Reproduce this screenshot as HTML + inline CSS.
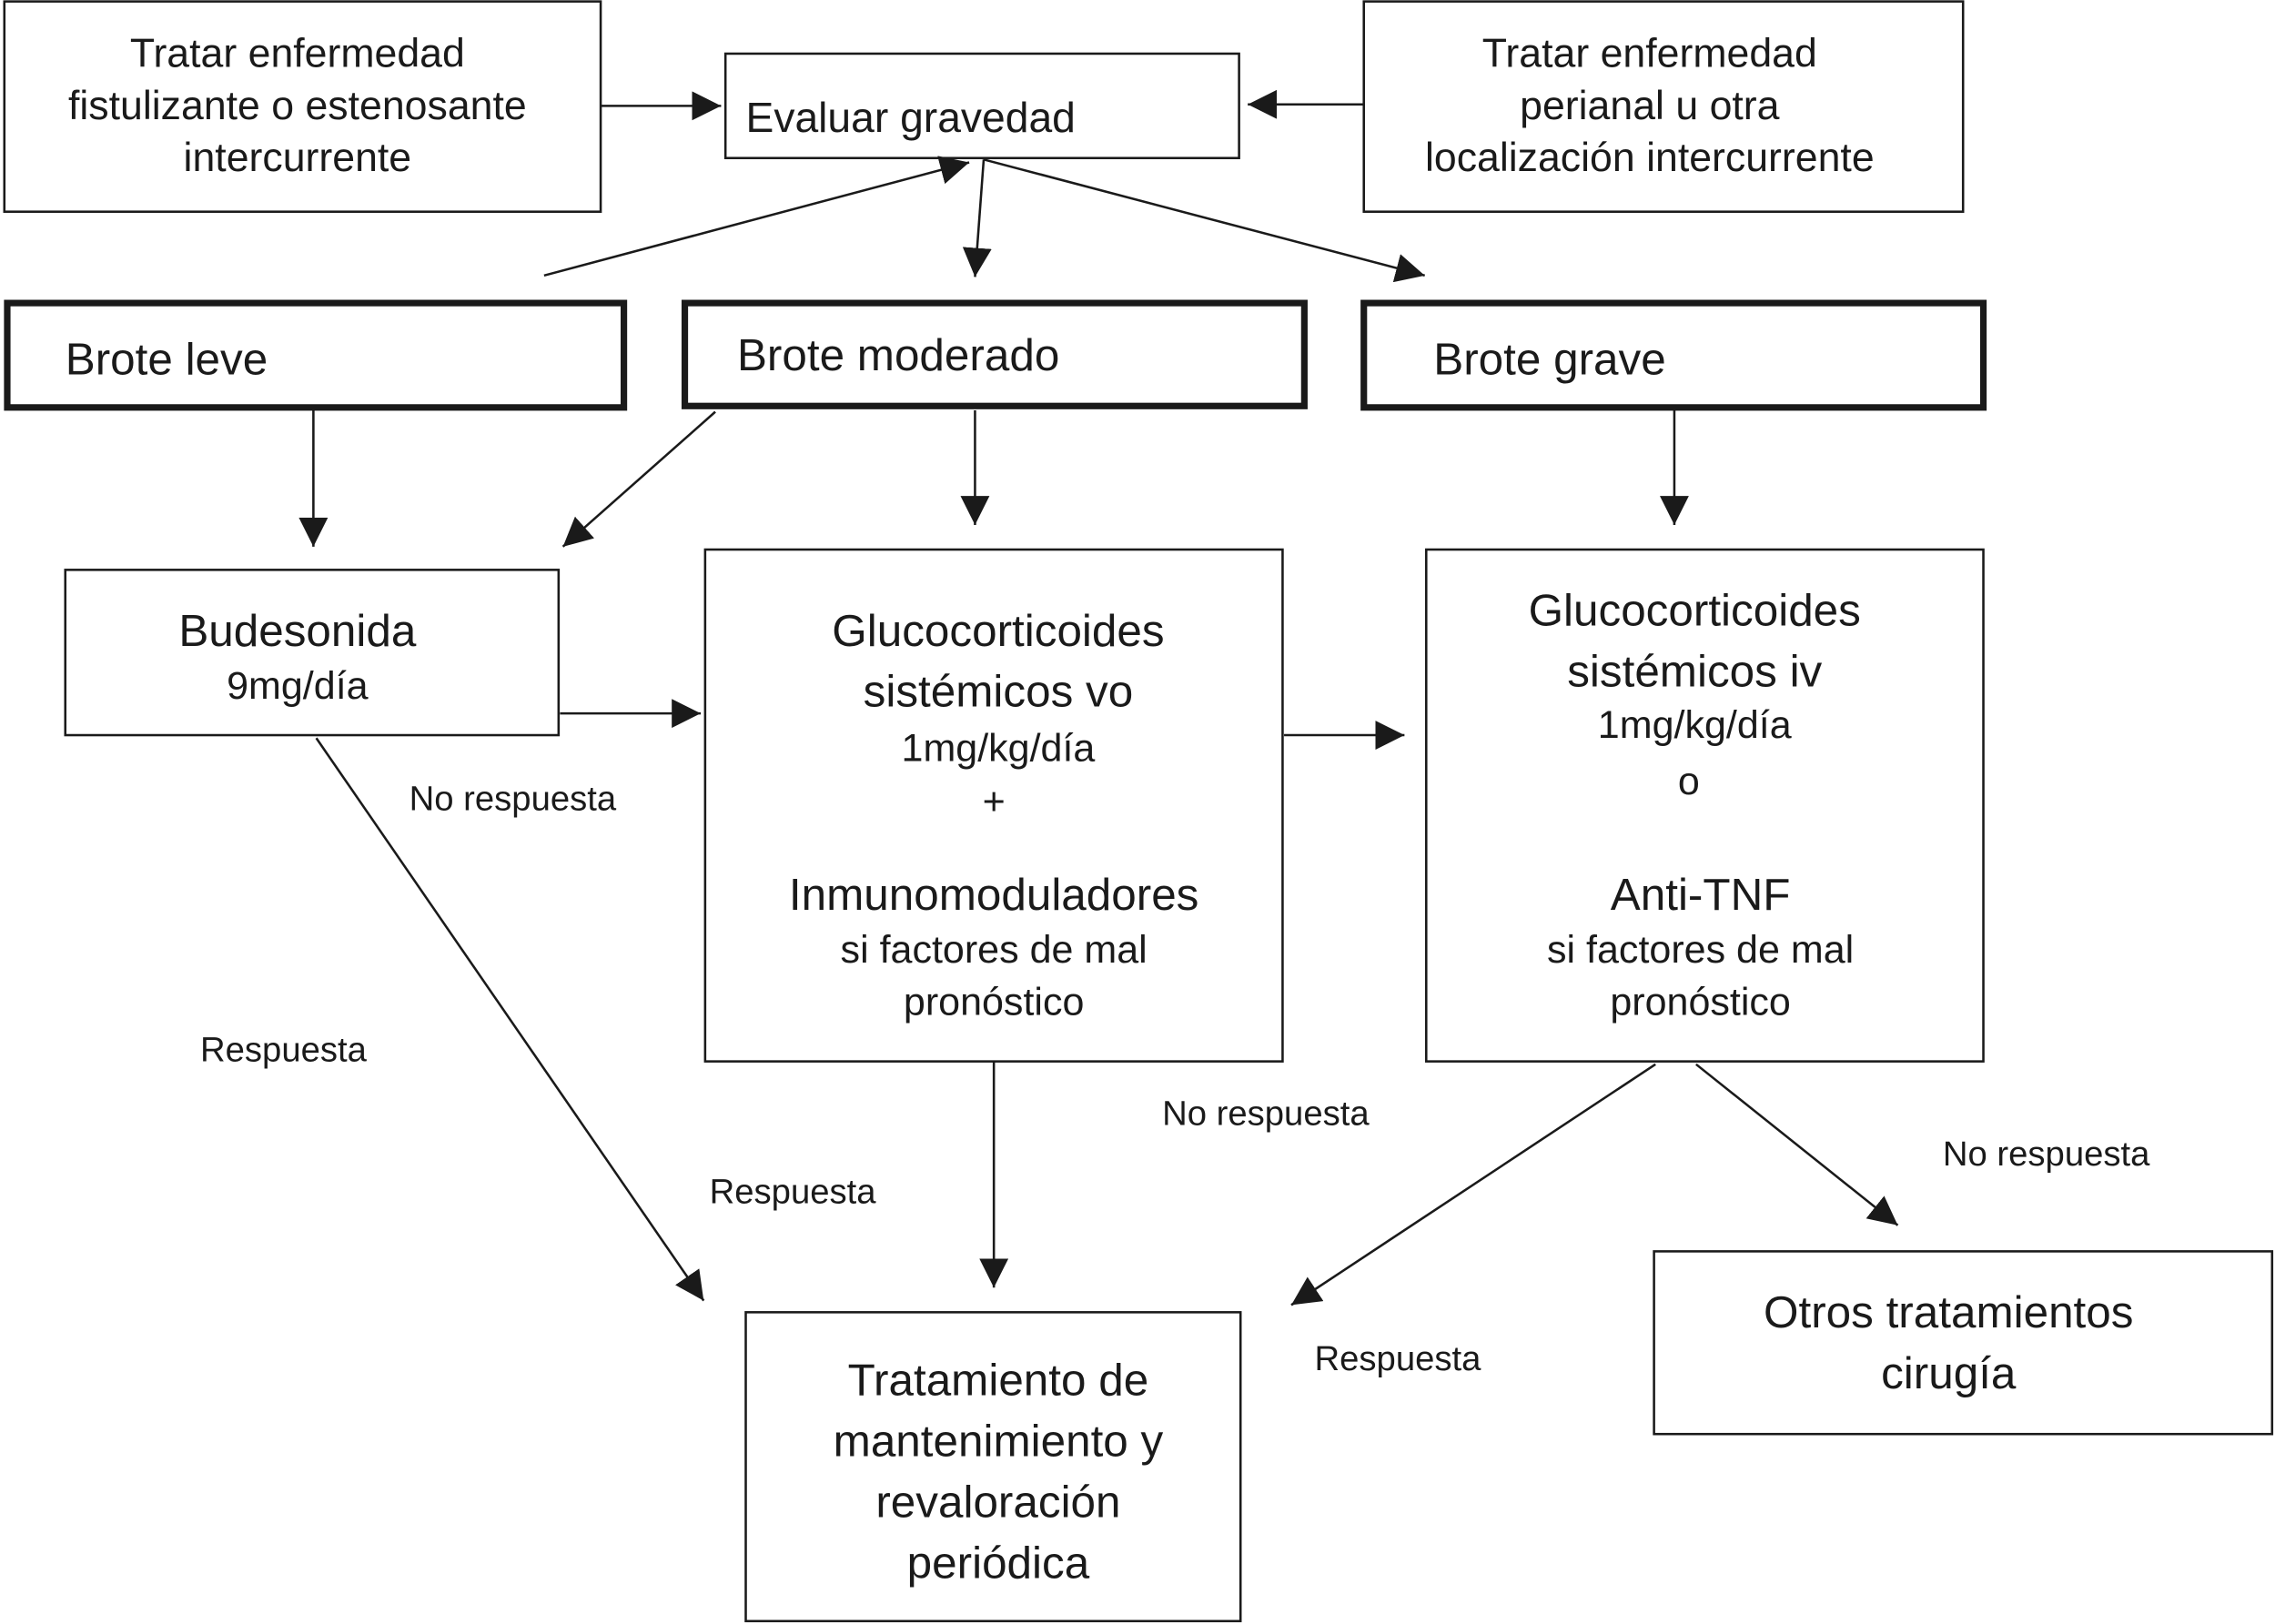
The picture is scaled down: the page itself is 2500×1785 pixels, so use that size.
<!DOCTYPE html>
<html><head><meta charset="utf-8"><style>
html,body{margin:0;padding:0;background:#fff;}
svg{display:block;}
text{font-family:"Liberation Sans",sans-serif;fill:#1a1a1a;dominant-baseline:central;}
</style></head><body>
<svg width="2500" height="1785" viewBox="0 0 1568 1120" preserveAspectRatio="none" xmlns="http://www.w3.org/2000/svg">
<defs><marker id="a" viewBox="0 0 10 10" refX="10" refY="5" markerWidth="20" markerHeight="20" markerUnits="userSpaceOnUse" orient="auto"><path d="M0,0 L10,5 L0,10 z" fill="#1a1a1a"/></marker></defs>
<g fill="none" stroke="#1a1a1a" stroke-width="1.6">
<rect x="3" y="1" width="411" height="145"/>
<rect x="500" y="37" width="354" height="72"/>
<rect x="940" y="1" width="413" height="145"/>
<rect x="45" y="393" width="340" height="114"/>
<rect x="486" y="379" width="398" height="353"/>
<rect x="983" y="379" width="384" height="353"/>
<rect x="514" y="905" width="341" height="213"/>
<rect x="1140" y="863" width="426" height="126"/>
</g>
<g fill="none" stroke="#1a1a1a" stroke-width="4.5">
<rect x="5" y="209" width="425" height="72"/>
<rect x="472" y="209" width="427" height="71"/>
<rect x="940" y="209" width="427" height="72"/>
</g>
<g stroke="#1a1a1a" stroke-width="1.6" marker-end="url(#a)">
<line x1="414" y1="73" x2="497" y2="73"/>
<line x1="940" y1="72" x2="860" y2="72"/>
<line x1="375" y1="190" x2="668" y2="112"/>
<line x1="678" y1="110" x2="672" y2="191"/>
<line x1="678" y1="110" x2="982" y2="190"/>
<line x1="216" y1="283" x2="216" y2="377"/>
<line x1="493" y1="284" x2="388" y2="377"/>
<line x1="672" y1="283" x2="672" y2="362"/>
<line x1="1154" y1="283" x2="1154" y2="362"/>
<line x1="386" y1="492" x2="483" y2="492"/>
<line x1="885" y1="507" x2="968" y2="507"/>
<line x1="218" y1="509" x2="485" y2="897"/>
<line x1="685" y1="732" x2="685" y2="888"/>
<line x1="1141" y1="734" x2="890" y2="900"/>
<line x1="1169" y1="734" x2="1308" y2="845"/>
</g>
<g text-anchor="middle" font-size="28">
<text x="205" y="37">Tratar enfermedad</text>
<text x="205" y="73">fistulizante o estenosante</text>
<text x="205" y="109">intercurrente</text>
<text x="1137" y="37">Tratar enfermedad</text>
<text x="1137" y="73">perianal u otra</text>
<text x="1137" y="109">localización intercurrente</text>
</g>
<text x="514" y="81" font-size="29">Evaluar gravedad</text>
<text x="45" y="248" font-size="31">Brote leve</text>
<text x="508" y="245" font-size="31">Brote moderado</text>
<text x="988" y="248" font-size="31">Brote grave</text>
<g text-anchor="middle">
<text x="205" y="435" font-size="31">Budesonida</text>
<text x="205" y="473" font-size="27">9mg/día</text>
<text x="688" y="435" font-size="31">Glucocorticoides</text>
<text x="688" y="477" font-size="31">sistémicos vo</text>
<text x="688" y="516" font-size="27">1mg/kg/día</text>
<text x="685" y="553" font-size="27">+</text>
<text x="685" y="617" font-size="31">Inmunomoduladores</text>
<text x="685" y="655" font-size="27">si factores de mal</text>
<text x="685" y="691" font-size="27">pronóstico</text>
<text x="1168" y="421" font-size="31">Glucocorticoides</text>
<text x="1168" y="463" font-size="31">sistémicos iv</text>
<text x="1168" y="500" font-size="27">1mg/kg/día</text>
<text x="1164" y="539" font-size="27">o</text>
<text x="1172" y="617" font-size="31">Anti-TNF</text>
<text x="1172" y="655" font-size="27">si factores de mal</text>
<text x="1172" y="691" font-size="27">pronóstico</text>
<text x="688" y="952" font-size="31">Tratamiento de</text>
<text x="688" y="994" font-size="31">mantenimiento y</text>
<text x="688" y="1036" font-size="31">revaloración</text>
<text x="688" y="1078" font-size="31">periódica</text>
<text x="1343" y="905" font-size="31">Otros tratamientos</text>
<text x="1343" y="947" font-size="31">cirugía</text>
</g>
<g font-size="24">
<text x="282" y="551">No respuesta</text>
<text x="138" y="724">Respuesta</text>
<text x="489" y="822">Respuesta</text>
<text x="801" y="768">No respuesta</text>
<text x="1339" y="796">No respuesta</text>
<text x="906" y="937">Respuesta</text>
</g>
</svg>
</body></html>
